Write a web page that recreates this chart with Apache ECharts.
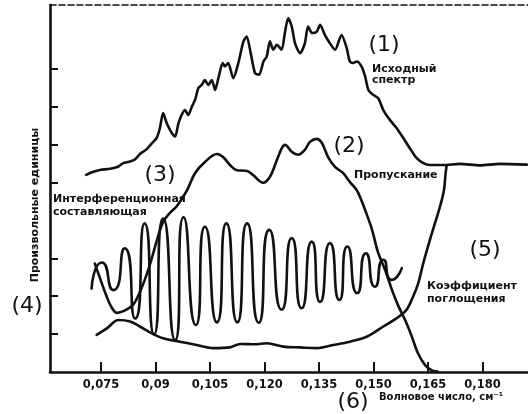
<!DOCTYPE html>
<html>
<head>
<meta charset="utf-8">
<script src="https://cdn.jsdelivr.net/npm/echarts@6/dist/echarts.min.js"></script>
<style>
html,body{margin:0;padding:0;background:#fff;}
#chart{width:528px;height:414px;}
</style>
</head>
<body>
<div id="chart"></div>
<script>
// Wavenumber ticks (cm^-1) and their printed labels
var xTickValues = [0.075, 0.09, 0.105, 0.12, 0.135, 0.15, 0.165, 0.18];
var xTickLabels = ['0,075', '0,09', '0,105', '0,120', '0,135', '0,150', '0,165', '0,180'];
var yTickValues = [1, 2, 3, 5, 6, 7, 8];

// (1) Source spectrum  [wavenumber, arbitrary units]
var sourceSpectrum = [
  [0.0709,5.20],[0.0729,5.28],[0.0747,5.33],[0.0775,5.36],[0.0798,5.42],[0.0811,5.51],
  [0.0830,5.55],[0.0844,5.61],[0.0857,5.75],[0.0866,5.81],[0.0876,5.88],[0.0890,6.03],
  [0.0903,6.17],[0.0912,6.43],[0.0921,6.83],[0.0931,6.56],[0.0945,6.30],[0.0954,6.21],
  [0.0963,6.56],[0.0972,6.78],[0.0981,6.91],[0.0990,6.78],[0.1000,7.00],[0.1009,7.18],
  [0.1018,7.49],[0.1027,7.57],[0.1036,7.70],[0.1045,7.57],[0.1055,7.70],[0.1064,7.44],
  [0.1073,7.75],[0.1085,8.15],[0.1091,8.06],[0.1100,8.15],[0.1114,7.75],[0.1128,8.15],
  [0.1142,8.72],[0.1151,8.85],[0.1162,8.41],[0.1174,7.88],[0.1185,7.84],[0.1197,8.19],
  [0.1206,8.32],[0.1215,8.72],[0.1224,8.50],[0.1234,8.63],[0.1247,8.50],[0.1256,8.94],
  [0.1265,9.33],[0.1275,9.11],[0.1284,8.67],[0.1298,8.41],[0.1311,8.67],[0.1320,9.11],
  [0.1331,8.94],[0.1344,8.98],[0.1353,9.16],[0.1366,8.89],[0.1380,8.67],[0.1394,8.50],
  [0.1412,8.89],[0.1426,8.55],[0.1435,8.19],[0.1444,8.15],[0.1454,8.19],[0.1467,8.06],
  [0.1477,7.79],[0.1486,7.44],[0.1499,7.31],[0.1513,7.22],[0.1527,6.91],[0.1545,6.65],
  [0.1564,6.43],[0.1582,6.17],[0.1600,5.90],[0.1619,5.64],[0.1637,5.51],[0.1655,5.46],
  [0.1692,5.46],[0.1738,5.49],[0.1793,5.45],[0.1848,5.49],[0.1922,5.47]
];

// (2) Transmission
var transmission = [
  [0.0733,2.86],[0.0747,2.48],[0.0764,2.03],[0.0780,1.69],[0.0794,1.56],[0.0813,1.61],
  [0.0838,1.77],[0.0857,2.11],[0.0877,2.61],[0.0890,3.01],[0.0904,3.48],[0.0921,3.96],
  [0.0940,4.20],[0.0959,4.38],[0.0987,4.80],[0.1009,5.25],[0.1036,5.54],[0.1069,5.75],
  [0.1086,5.67],[0.1105,5.46],[0.1122,5.33],[0.1152,5.30],[0.1168,5.20],[0.1196,4.99],
  [0.1215,5.15],[0.1234,5.59],[0.1248,5.91],[0.1256,5.99],[0.1276,5.80],[0.1292,5.73],
  [0.1311,5.86],[0.1325,6.07],[0.1344,6.15],[0.1358,6.04],[0.1375,5.67],[0.1394,5.41],
  [0.1416,5.25],[0.1435,5.01],[0.1455,4.78],[0.1477,4.27],[0.1496,3.75],[0.1512,3.17],
  [0.1532,2.69],[0.1551,2.16],[0.1567,1.77],[0.1587,1.37],[0.1606,0.92],[0.1622,0.50],
  [0.1642,0.18],[0.1661,0.04],[0.1677,0.01]
];

// (3) Interference component
var interference = [
  [0.0724,2.20],[0.0752,2.89],[0.0784,2.16],[0.0815,3.26],[0.0844,1.41],[0.0870,3.92],
  [0.0896,0.99],[0.0921,4.05],[0.0954,0.84],[0.0977,4.08],[0.1011,1.24],[0.1036,3.83],
  [0.1069,1.31],[0.1095,3.92],[0.1125,1.31],[0.1152,3.92],[0.1184,1.30],[0.1213,3.75],
  [0.1247,1.64],[0.1275,3.53],[0.1302,1.68],[0.1330,3.44],[0.1353,1.85],[0.1380,3.40],
  [0.1406,1.90],[0.1428,3.31],[0.1455,2.08],[0.1479,3.13],[0.1504,2.25],[0.1527,2.96],
  [0.1550,2.43],[0.1578,2.74]
];

// (5) Absorption coefficient
var absorption = [
  [0.0738,0.98],[0.0766,1.15],[0.0798,1.37],[0.0830,1.33],[0.0857,1.20],[0.0890,1.02],
  [0.0921,0.89],[0.0967,0.80],[0.1013,0.71],[0.1059,0.63],[0.1105,0.65],[0.1133,0.74],
  [0.1174,0.73],[0.1206,0.76],[0.1252,0.67],[0.1298,0.65],[0.1344,0.63],[0.1389,0.71],
  [0.1435,0.80],[0.1481,0.93],[0.1527,1.20],[0.1564,1.42],[0.1591,1.64],[0.1609,1.99],
  [0.1623,2.34],[0.1637,2.87],[0.1655,3.48],[0.1669,3.92],[0.1683,4.36],[0.1694,4.80],
  [0.1698,5.20],[0.1701,5.44]
];

var X_MIN = 0.06096, X_MAX = 0.19252, Y_MIN = 0, Y_MAX = 9.68;
var INK = '#111';
var LBL = 'bold 11px "DejaVu Sans"';
var NUM = '22px "DejaVu Sans"';

function lineSeries(name, data, smooth) {
  return {
    name: name, type: 'line', data: data, showSymbol: false, smooth: smooth,
    lineStyle: { color: INK, width: 2.6, cap: 'round', join: 'round' },
    silent: true, z: 3
  };
}
function txt(text, x, y, font, align, extra) {
  var o = {
    type: 'text', x: x, y: y, z: 100,
    style: { text: text, font: font, fill: INK, textAlign: align, align: align,
             textVerticalAlign: 'middle', verticalAlign: 'middle' }
  };
  if (extra) for (var k in extra) o[k] = extra[k];
  return o;
}

var chart = echarts.init(document.getElementById('chart'), null, { renderer: 'canvas' });
chart.setOption({
  animation: false,
  backgroundColor: '#fff',
  grid: { left: 50, right: 0, top: 5, bottom: 42, containLabel: false },
  xAxis: [{
    type: 'value', min: X_MIN, max: X_MAX, position: 'bottom',
    axisLine: { show: true, onZero: false, lineStyle: { color: INK, width: 2.6 } },
    axisTick: { show: true, inside: true, length: 10, customValues: xTickValues,
                lineStyle: { color: INK, width: 2 } },
    axisLabel: { show: true, margin: 7, customValues: xTickValues,
                 color: INK, fontFamily: 'DejaVu Sans', fontWeight: 'bold', fontSize: 11.5,
                 formatter: function (v) {
                   for (var i = 0; i < xTickValues.length; i++)
                     if (Math.abs(xTickValues[i] - v) < 1e-6) return xTickLabels[i];
                   return '';
                 } },
    splitLine: { show: false }
  }, {
    type: 'value', min: X_MIN, max: X_MAX, position: 'top',
    axisLine: { show: true, onZero: false, lineStyle: { color: INK, width: 1.6, type: [6, 3] } },
    axisTick: { show: false }, axisLabel: { show: false }, splitLine: { show: false }
  }],
  yAxis: {
    type: 'value', min: Y_MIN, max: Y_MAX,
    axisLine: { show: true, onZero: false, lineStyle: { color: INK, width: 2.6 } },
    axisTick: { show: true, inside: true, length: 8, customValues: yTickValues,
                lineStyle: { color: INK, width: 2 } },
    axisLabel: { show: false },
    splitLine: { show: false }
  },
  series: [
    lineSeries('Исходный спектр', sourceSpectrum, 0.25),
    lineSeries('Пропускание', transmission, 0.35),
    lineSeries('Интерференционная составляющая', interference, 0.8),
    lineSeries('Коэффициент поглощения', absorption, 0.35)
  ],
  graphic: [
    txt('(1)', 384, 45, NUM, 'center'),
    txt('Исходный', 372, 69, LBL, 'left'),
    txt('спектр', 372, 80, LBL, 'left'),
    txt('(2)', 349, 146, NUM, 'center'),
    txt('Пропускание', 354, 175, LBL, 'left'),
    txt('(3)', 160, 175, NUM, 'center'),
    txt('Интерференционная', 53, 199, LBL, 'left'),
    txt('составляющая', 53, 212, LBL, 'left'),
    txt('(4)', 27, 306, NUM, 'center'),
    txt('(5)', 485, 250, NUM, 'center'),
    txt('Коэффициент', 427, 286, LBL, 'left'),
    txt('поглощения', 427, 299, LBL, 'left'),
    txt('(6)', 353, 402, NUM, 'center'),
    txt('Волновое число, см⁻¹', 379, 397, 'bold 10px "DejaVu Sans"', 'left'),
    txt('Произвольные единицы', 35, 205, LBL, 'center', { rotation: Math.PI / 2 })
  ]
});
</script>
</body>
</html>
